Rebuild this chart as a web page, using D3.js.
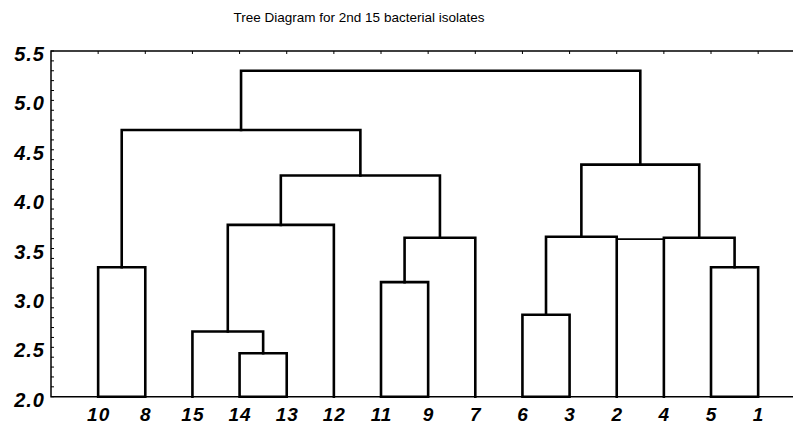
<!DOCTYPE html>
<html>
<head>
<meta charset="utf-8">
<script src="https://cdn.jsdelivr.net/npm/d3@7"></script>
<style>
  body { margin: 0; background: #fff; }
  svg { display: block; }
</style>
</head>
<body>
<div class="tree"></div>
<script>
var width = 793;
var height = 423;

// leaf order along the bottom
var leaves = ["10", "8", "15", "14", "13", "12", "11", "9", "7", "6", "3", "2", "4", "5", "1"];
// merges: [left, right, linkage distance]; ids "c0", "c1"... refer to earlier merges
var merges = [
  ["10", "8", 3.31],
  ["14", "13", 2.44],
  ["15", "c1", 2.66],
  ["c2", "12", 3.74],
  ["11", "9", 3.16],
  ["c4", "7", 3.61],
  ["c3", "c5", 4.24],
  ["c0", "c6", 4.70],
  ["6", "3", 2.83],
  ["c8", "2", 3.62],
  ["5", "1", 3.31],
  ["4", "c10", 3.61],
  ["c9", "c11", 4.35],
  ["c7", "c12", 5.30]
];
// odd extra link drawn between 2 and 4
var extraLinks = [["2", "4", 3.595]];
var yTicks = [2.0, 2.5, 3.0, 3.5, 4.0, 4.5, 5.0, 5.5];
var baseValue = 2.0;

var svg = d3
  .select(".tree")
  .append("svg")
  .attr("width", width)
  .attr("height", height);

var x = d3.scaleLinear().domain([0, 16]).range([51, 805.3]);
var y = d3.scaleLinear().domain([2.0, 5.5]).range([396.7, 51]);

var font = "Liberation Sans, Arial, sans-serif";

svg
  .append("text")
  .attr("x", 359)
  .attr("y", 22)
  .attr("text-anchor", "middle")
  .style("font-family", font)
  .style("font-size", "13.5px")
  .text("Tree Diagram for 2nd 15 bacterial isolates");

// node positions
var pos = {};
leaves.forEach(function (d, i) {
  pos[d] = { x: x(i + 1), h: baseValue };
});
merges.forEach(function (m, i) {
  pos["c" + i] = { x: (pos[m[0]].x + pos[m[1]].x) / 2, h: m[2] };
});

// frame
var frame = svg.append("g").attr("stroke", "#000").attr("fill", "none");
frame
  .append("path")
  .attr("stroke-width", 1.5)
  .attr(
    "d",
    "M" + x(16) + "," + y(5.5) + "H" + x(0) + "V" + y(2.0) + "H" + x(16)
  );

// left ticks every 0.1, pointing inward
var minor = d3.range(20, 56).map(function (d) {
  return d / 10;
});
frame
  .selectAll(".ytick")
  .data(minor)
  .enter()
  .append("line")
  .attr("x1", x(0))
  .attr("x2", x(0) + 3)
  .attr("y1", function (d) {
    return y(d);
  })
  .attr("y2", function (d) {
    return y(d);
  })
  .attr("stroke-width", 1);

// top ticks at leaf positions
frame
  .selectAll(".xtick")
  .data(leaves)
  .enter()
  .append("line")
  .attr("x1", function (d) {
    return pos[d].x;
  })
  .attr("x2", function (d) {
    return pos[d].x;
  })
  .attr("y1", y(5.5))
  .attr("y2", y(5.5) + 3)
  .attr("stroke-width", 1);

// y labels
svg
  .selectAll(".ylab")
  .data(yTicks)
  .enter()
  .append("text")
  .attr("x", 45)
  .attr("y", function (d) {
    return y(d) + 10;
  })
  .attr("text-anchor", "end")
  .style("font-family", font)
  .style("font-size", "20px")
  .style("letter-spacing", "1px")
  .style("font-weight", "bold")
  .style("font-style", "italic")
  .text(function (d) {
    return d.toFixed(1);
  });

// leaf labels
svg
  .selectAll(".xlab")
  .data(leaves)
  .enter()
  .append("text")
  .attr("x", function (d) {
    return pos[d].x + 0.5;
  })
  .attr("y", 421)
  .attr("text-anchor", "middle")
  .style("font-family", font)
  .style("font-size", "19px")
  .style("letter-spacing", "1px")
  .style("font-weight", "bold")
  .style("font-style", "italic")
  .text(function (d) {
    return d;
  });

// dendrogram links
var links = svg
  .append("g")
  .attr("stroke", "#000")
  .attr("fill", "none")
  .attr("stroke-width", 2.6)
  .attr("stroke-linejoin", "miter")
  .attr("stroke-linecap", "square");

links
  .selectAll("path")
  .data(merges)
  .enter()
  .append("path")
  .attr("d", function (m) {
    var a = pos[m[0]];
    var b = pos[m[1]];
    var p = "M" + a.x + "," + y(a.h) + "V" + y(m[2]) + "H" + b.x + "V" + y(b.h);
    // pairs of leaves are closed along the base
    if (a.h === baseValue && b.h === baseValue) p += "H" + a.x;
    return p;
  });

links
  .selectAll(".extra")
  .data(extraLinks)
  .enter()
  .append("line")
  .attr("stroke-width", 1.8)
  .attr("stroke-linecap", "butt")
  .attr("x1", function (d) {
    return pos[d[0]].x;
  })
  .attr("x2", function (d) {
    return pos[d[1]].x;
  })
  .attr("y1", function (d) {
    return y(d[2]);
  })
  .attr("y2", function (d) {
    return y(d[2]);
  });
</script>
</body>
</html>
